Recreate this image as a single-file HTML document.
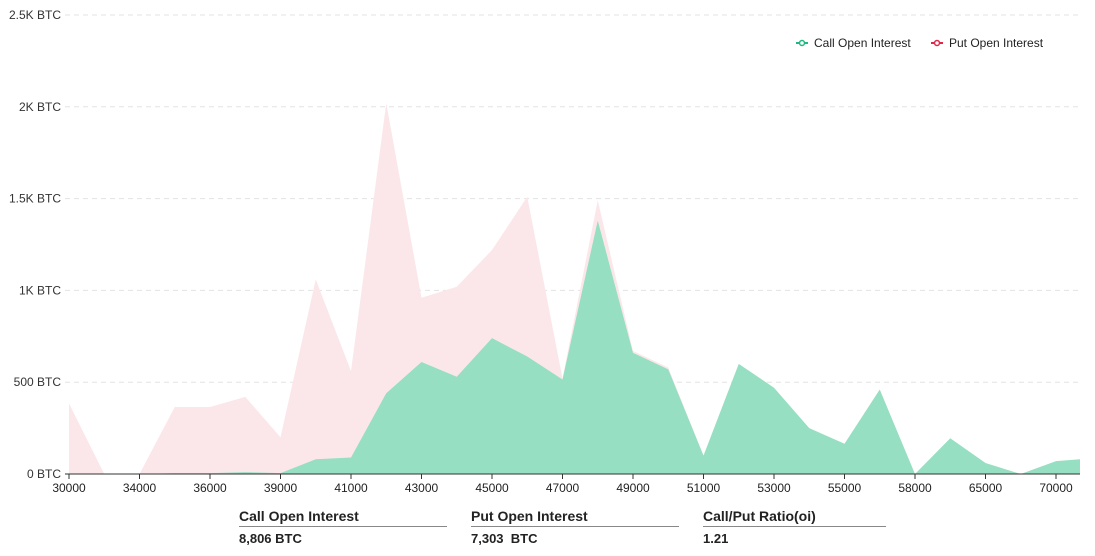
<!DOCTYPE html>
<html><head><meta charset="utf-8"><style>
body{margin:0;background:#fff;font-family:"Liberation Sans",sans-serif;}
#wrap{position:relative;width:1095px;height:556px;overflow:hidden}
.sum{position:absolute;top:508px;font-size:14px;font-weight:bold;color:#222}
.sum .h{border-bottom:1px solid #888;padding-bottom:2px;width:208px}
.sum .v{margin-top:4px;font-size:13px}
</style></head><body>
<div id="wrap">
<svg id="chart" width="1095" height="500"></svg>
<div class="sum" style="left:239px"><div class="h">Call Open Interest</div><div class="v">8,806 BTC</div></div>
<div class="sum" style="left:471px"><div class="h">Put Open Interest</div><div class="v">7,303 &nbsp;BTC</div></div>
<div class="sum" style="left:703px"><div class="h" style="width:183px">Call/Put Ratio(oi)</div><div class="v">1.21</div></div>
</div>
<script>
const categories=["30000","32000","34000","35000","36000","37000","39000","40000","41000","42000","43000","44000","45000","46000","47000","48000","49000","50000","51000","52000","53000","54000","55000","56000","58000","60000","65000","68000","70000","75000"];
const putValues=[385,0,0,365,365,420,200,1060,560,2020,960,1020,1220,1510,520,1490,670,580,100,20,10,10,10,10,0,10,10,0,10,10];
const callValues=[0,0,0,5,5,10,5,80,90,440,610,530,740,640,515,1380,660,570,100,600,470,250,165,460,0,195,60,0,70,85];
const yTicks=[0,500,1000,1500,2000,2500];
const yTickLabels=["0 BTC","500 BTC","1K BTC","1.5K BTC","2K BTC","2.5K BTC"];
const NS="http://www.w3.org/2000/svg";
const svg=document.getElementById('chart');
const L=65,R=1080,B=474,T=15;
const x=i=>69+35.25*i;
const y=v=>B-(v/2500)*(B-T);
function mk(t,a){const e=document.createElementNS(NS,t);for(const k in a)e.setAttribute(k,a[k]);svg.appendChild(e);return e;}
const cp=mk('clipPath',{id:'cp'});const cr=document.createElementNS(NS,'rect');
cr.setAttribute('x',L);cr.setAttribute('y',0);cr.setAttribute('width',R-L);cr.setAttribute('height',500);cp.appendChild(cr);
yTicks.forEach((t,i)=>{
 const g=mk('line',{x1:L,x2:R,y1:y(t),y2:y(t),stroke:i==0?'#333':'#e3e3e3','stroke-dasharray':i==0?'':'5,4'});
 
 
 const tx=mk('text',{x:61,y:y(t)+4,'text-anchor':'end','font-size':12,fill:'#333'});tx.textContent=yTickLabels[i];
 
 
});
function area(vals,fill,name){
 let d='M'+x(0)+','+B;
 vals.forEach((v,i)=>d+=' L'+x(i)+','+y(v));
 d+=' L'+x(vals.length-1)+','+B+' Z';
 const p=mk('path',{d:d,fill:fill,'clip-path':'url(#cp)'});
 
 
}
area(putValues,'#fbe7ea','put-area');
area(callValues,'#96dfc2','call-area');
mk('line',{x1:L,x2:R,y1:B,y2:B,stroke:'#333'});
categories.forEach((c,i)=>{
 if(i%2)return;
 const tk=mk('line',{x1:x(i),x2:x(i),y1:B,y2:B+5,stroke:'#333'});
 
 
 const t=mk('text',{x:x(i),y:B+18,'text-anchor':'middle','font-size':12,fill:'#222'});t.textContent=c;
 
 
});
[[796,'#1fb97f','Call Open Interest'],[931,'#e0264b','Put  Open Interest']].forEach(([lx,c,txt],k)=>{
 const g=mk('g',{});
 
 
 const l=document.createElementNS(NS,'line');l.setAttribute('x1',lx);l.setAttribute('x2',lx+12);l.setAttribute('y1',43);l.setAttribute('y2',43);l.setAttribute('stroke',c);l.setAttribute('stroke-width',2);g.appendChild(l);
 const ci=document.createElementNS(NS,'circle');ci.setAttribute('cx',lx+6);ci.setAttribute('cy',43);ci.setAttribute('r',2.5);ci.setAttribute('fill','#fff');ci.setAttribute('stroke',c);ci.setAttribute('stroke-width',1.5);g.appendChild(ci);
 const t=document.createElementNS(NS,'text');t.setAttribute('x',lx+18);t.setAttribute('y',47);t.setAttribute('font-size',12);t.setAttribute('fill','#222');t.setAttribute('xml:space','preserve');t.textContent=txt;g.appendChild(t);
});
</script>
</body></html>
